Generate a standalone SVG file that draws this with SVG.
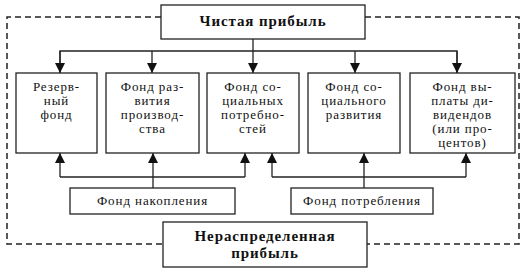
<svg xmlns="http://www.w3.org/2000/svg" width="529" height="270" viewBox="0 0 529 270">
<style>
.box{fill:#fff;stroke:#222;stroke-width:1.3}
.ln{fill:none;stroke:#222;stroke-width:1.3}
.dash{fill:none;stroke:#222;stroke-width:1.5;stroke-dasharray:6,4}
.t{font-size:13px;letter-spacing:0.9px}
.b{font-size:15px;font-weight:bold;letter-spacing:0.9px}
</style>
<defs>
<marker id="ar" viewBox="0 0 10 10" refX="10" refY="5" markerWidth="10" markerHeight="10" markerUnits="userSpaceOnUse" orient="auto">
<path d="M0,0 L10,5 L0,10 Z" fill="#111"/>
</marker>
</defs>
<g id="connectors">
<path class="dash" d="M161,17 H7 V244 H163"/>
<path class="dash" d="M365,17 H519 V244 H367"/>
<path class="ln" d="M253,39 V51"/>
<path class="ln" d="M60,73 V51 H457 V73"/>
<path class="ln" d="M60,51 V73" marker-end="url(#ar)"/>
<path class="ln" d="M152,51 V73" marker-end="url(#ar)"/>
<path class="ln" d="M253,51 V73" marker-end="url(#ar)"/>
<path class="ln" d="M355,51 V73" marker-end="url(#ar)"/>
<path class="ln" d="M457,51 V73" marker-end="url(#ar)"/>
<path class="ln" d="M60,177 H245"/>
<path class="ln" d="M153,188 V177"/>
<path class="ln" d="M60,177 V153" marker-end="url(#ar)"/>
<path class="ln" d="M153,177 V153" marker-end="url(#ar)"/>
<path class="ln" d="M245,177 V153" marker-end="url(#ar)"/>
<path class="ln" d="M272,177 H466"/>
<path class="ln" d="M364,188 V177"/>
<path class="ln" d="M272,177 V153" marker-end="url(#ar)"/>
<path class="ln" d="M364,177 V153" marker-end="url(#ar)"/>
<path class="ln" d="M466,177 V153" marker-end="url(#ar)"/>
</g>
<g font-family="'Liberation Serif', 'DejaVu Serif', serif" fill="#111" text-anchor="middle">
<g id="net-profit">
<rect class="box" x="161" y="5" width="204" height="34"/>
<text class="b" x="263" y="26">Чистая прибыль</text>
</g>
<g id="reserve">
<rect class="box" x="16" y="73" width="81" height="80"/>
<text class="t" x="56.5" y="91">Резерв-</text>
<text class="t" x="56.5" y="105">ный</text>
<text class="t" x="56.5" y="119">фонд</text>
</g>
<g id="development">
<rect class="box" x="106" y="73" width="93" height="80"/>
<text class="t" x="152.5" y="91">Фонд раз-</text>
<text class="t" x="152.5" y="105">вития</text>
<text class="t" x="152.5" y="119">производ-</text>
<text class="t" x="152.5" y="133">ства</text>
</g>
<g id="social-needs">
<rect class="box" x="207" y="73" width="92" height="80"/>
<text class="t" x="253" y="91">Фонд со-</text>
<text class="t" x="253" y="105">циальных</text>
<text class="t" x="253" y="119">потребно-</text>
<text class="t" x="253" y="133">стей</text>
</g>
<g id="social-development">
<rect class="box" x="308" y="73" width="92" height="80"/>
<text class="t" x="354" y="91">Фонд со-</text>
<text class="t" x="354" y="105">циального</text>
<text class="t" x="354" y="119">развития</text>
</g>
<g id="dividends">
<rect class="box" x="410" y="73" width="105" height="80"/>
<text class="t" x="462.5" y="91">Фонд вы-</text>
<text class="t" x="462.5" y="105">платы ди-</text>
<text class="t" x="462.5" y="119">видендов</text>
<text class="t" x="462.5" y="133">(или про-</text>
<text class="t" x="462.5" y="147">центов)</text>
</g>
<g id="accumulation">
<rect class="box" x="70" y="188" width="165" height="26"/>
<text class="t" x="152.5" y="205">Фонд накопления</text>
</g>
<g id="consumption">
<rect class="box" x="291" y="188" width="142" height="26"/>
<text class="t" x="362" y="205">Фонд потребления</text>
</g>
<g id="retained-profit">
<rect class="box" x="163" y="222" width="204" height="45"/>
<text class="b" x="265" y="241">Нераспределенная</text>
<text class="b" x="265" y="258">прибыль</text>
</g>
</g>
</svg>
